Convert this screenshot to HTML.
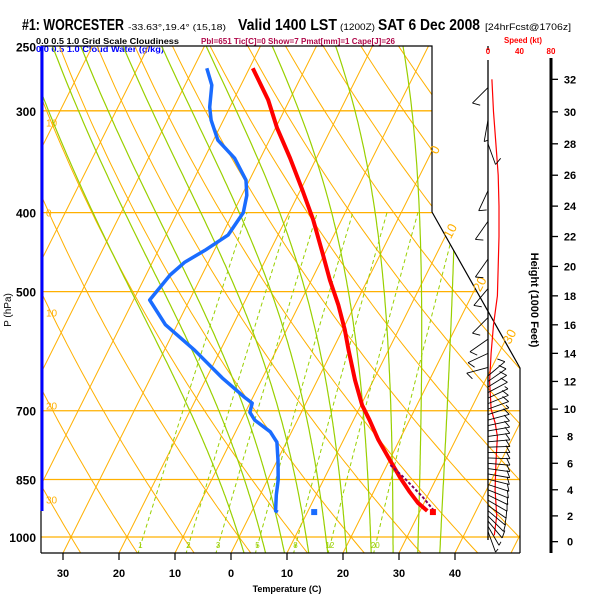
<!DOCTYPE html>
<html><head><meta charset="utf-8"><style>
html,body{margin:0;padding:0;background:#fff;}
svg{display:block;font-family:"Liberation Sans",sans-serif;}
</style></head><body>
<svg id="chart" width="600" height="600" viewBox="0 0 600 600">
<defs><clipPath id="plotclip"><polygon points="41,46 432,46 432,212 520,368 520,553 41,553"/></clipPath></defs>
<g>
<text x="22" y="30" font-size="16" font-weight="bold" textLength="102" lengthAdjust="spacingAndGlyphs">#1: WORCESTER</text>
<text x="128" y="30" font-size="8" textLength="98" lengthAdjust="spacingAndGlyphs">-33.63°,19.4° (15,18)</text>
<text x="238" y="30" font-size="16" font-weight="bold" textLength="99" lengthAdjust="spacingAndGlyphs">Valid 1400 LST</text>
<text x="340" y="30" font-size="9" textLength="35" lengthAdjust="spacingAndGlyphs">(1200Z)</text>
<text x="378" y="30" font-size="16" font-weight="bold" textLength="102" lengthAdjust="spacingAndGlyphs">SAT 6 Dec 2008</text>
<text x="485" y="30" font-size="9" textLength="86" lengthAdjust="spacingAndGlyphs">[24hrFcst@1706z]</text>
<text x="36" y="44" font-size="8" font-weight="bold" textLength="143" lengthAdjust="spacingAndGlyphs">0.0   0.5   1.0  Grid Scale Cloudiness</text>
<text x="36" y="52" font-size="8" font-weight="bold" fill="#0000ff" textLength="128" lengthAdjust="spacingAndGlyphs">0.0   0.5   1.0  Cloud Water (g/kg)</text>
<text x="201" y="44" font-size="8" font-weight="bold" fill="#b0084a" textLength="194" lengthAdjust="spacingAndGlyphs">Pbl=651 Tic[C]=0 Show=7 Pmat[mm]=1 Cape[J]=26</text>
<text x="504" y="43" font-size="8" font-weight="bold" fill="#ff0000" textLength="38" lengthAdjust="spacingAndGlyphs">Speed (kt)</text>
</g>
<g id="grid" clip-path="url(#plotclip)"></g>
<g id="frame"></g>
<g id="series" clip-path="url(#plotclip)"></g>
<g id="wind"></g>
<g id="axes"></g>
</svg>
<script>
// ---- data ----
var pLevels = [250,300,400,500,700,850,1000];
var tempTicks = [-30,-20,-10,0,10,20,30,40];
var tempTickLabels = ["30","20","10","0","10","20","30","40"];
var isoLabelTemps = [0,10,20,30];
var mixRatios = [1,2,3,5,8,12,20];
var moistStartT = [0,4,7.5,12,15.5,19,23.5,27.5,32,36];
var tempP = [266,291,315,343,375,408,445,484,519,557,590,642,689,719,760,805,846,881,908,929];
var tempT = [-39.4,-33.8,-29.7,-24.7,-19.7,-15.1,-10.8,-6.7,-3.0,0.4,2.9,6.7,10.2,12.9,16.2,20.1,23.5,26.5,28.9,31.3];
var dewP = [266,279,297,308,326,343,365,381,400,426,445,460,477,512,549,590,638,675,685,703,719,743,765,805,851,888,929,932];
var dewT = [-47.6,-45.2,-43.6,-42.2,-39.2,-34.6,-30.6,-29.1,-28.2,-28.9,-31.7,-34.2,-35.7,-37.1,-32.1,-24.6,-17.2,-11.3,-9.6,-9.2,-7.6,-3.8,-1.7,0.1,1.9,2.9,4.2,4.7];
var parcelP = [816,846,870,895,920,932];
var parcelT = [20.6,24.2,26.8,29.4,31.7,32.8];
var sfcTemp = 32.4, sfcDew = 11.2, sfcP = 932;
var heightTicks = [0,2,4,6,8,10,12,14,16,18,20,22,24,26,28,30,32];
var speedTicks = [0,40,80];
var spdH = [0.5,2,4,6,8,9,10,11,12,14,16,18,20,22,24,26,28,30,32];
var spdV = [8,11,9,10,12,9,4,3,2,4,7,12,13,14,14,13,10,7,5];
var barbH = [31.5,29.5,28,25,23,20.5,18.5,16.5,15,14,13,12.4,12,11.6,11.2,10.8,10.4,10,9.6,9.2,8.8,8.4,8,7.6,7.2,6.8,6.4,6,5.6,5.2,4.8,4.4,4,3.6,3.2,2.8,2.4,2,1.6,1.2,0.8];
var barbD = [225,190,160,205,215,215,220,225,235,245,255,50,55,58,62,65,68,70,72,75,78,80,82,85,88,90,92,95,98,100,104,108,112,116,120,125,130,135,140,150,160];
var barbS = [10,5,10,10,10,10,10,10,10,10,10,10,10,10,10,5,10,10,5,10,10,10,10,10,10,10,10,10,10,10,10,10,10,10,10,10,10,10,10,5,5];

// ---- scales ----
function py(p){ return 537 + 354*Math.log(p/1000); }
function tx(T,y){ return 231 + 5.6*T + 0.5*(553-y); }
function hy(h){ var m=h*304.8; return py(1013.25*Math.pow(1-0.0065*m/288.15,5.2559)); }
function sx(s){ return 488 + s*63/80; }
function borderX(y){ return y<212 ? 432 : (y<368 ? 432+(y-212)*88/156 : 520); }

var NS="http://www.w3.org/2000/svg";
function mk(tag, attrs, parent){ var e=document.createElementNS(NS,tag); for(var k in attrs) e.setAttribute(k,attrs[k]); parent.appendChild(e); return e; }
var grid=document.getElementById('grid'), frame=document.getElementById('frame'), series=document.getElementById('series'), wind=document.getElementById('wind'), axes=document.getElementById('axes');
var ORANGE="#ffb000", GREEN="#99d000";

pLevels.forEach(function(p){ if(p===250) return;
  var l=mk('line',{x1:41,x2:520,y1:py(p),y2:py(p),stroke:ORANGE,'stroke-width':1.3},grid);
  
  
});
for(var T=-110;T<=50;T+=10){
  var l=mk('line',{x1:tx(T,560),y1:560,x2:tx(T,40),y2:40,stroke:ORANGE,'stroke-width':1},grid);
  
  
}
function ptsStr(a){ return a.map(function(q){return q[0].toFixed(1)+','+q[1].toFixed(1);}).join(' '); }
for(var th=-50;th<=130;th+=10){
  var pts=[];
  for(var p=1060;p>=240;p-=10){ var T=(th+273.15)*Math.pow(p/1000,0.2857)-273.15; var y=py(p); pts.push([tx(T,y),y]); }
  var pl=mk('polyline',{points:ptsStr(pts),fill:'none',stroke:ORANGE,'stroke-width':1},grid);
  
  
  for(var i=0;i<pts.length-1;i++){
    if((pts[i][0]-48)*(pts[i+1][0]-48)<=0 && pts[i][1]>60 && pts[i][1]<540){
      var t=mk('text',{x:46,y:pts[i][1]+4,'font-size':10,fill:ORANGE},grid);
      t.textContent=String(Math.abs(th));
      
      
      break;
    }
  }
}
mixRatios.forEach(function(w){
  var pts=[];
  for(var p=1050;p>=400;p-=10){ var e=w*p/(622+w); var L=Math.log(e/6.112); var Td=243.5*L/(17.67-L); var y=py(p); pts.push([tx(Td,y),y]); }
  var pl=mk('polyline',{points:ptsStr(pts),fill:'none',stroke:GREEN,'stroke-width':1,'stroke-dasharray':'4,3'},grid);
  
  
  var e=w*1020/(622+w), L=Math.log(e/6.112), Td=243.5*L/(17.67-L);
  var t=mk('text',{x:tx(Td,545),y:548,'font-size':8,fill:GREEN,'text-anchor':'middle'},grid);
  t.textContent=String(w);
  
  
});
function moistSeg(T0K, pStart, pEnd, dp){
  var T=T0K, out=[];
  for(var p=pStart; dp<0 ? p>=pEnd : p<=pEnd; p+=dp){
    var y=py(p); out.push([tx(T-273.15,y),y]);
    var es=6.112*Math.exp(17.67*(T-273.15)/(T-29.65)); var rs=0.622*es/(p-es);
    var dTdp=(287*T+2.5e6*rs)/(p*(1004+2.5e6*2.5e6*rs*0.622/(287*T*T)));
    T+=dTdp*dp;
  }
  return out;
}
moistStartT.forEach(function(t0){
  var up=moistSeg(t0+273.15,1000,240,-5), dn=moistSeg(t0+273.15,1000,1060,5);
  var pts=dn.reverse().concat(up);
  var pl=mk('polyline',{points:ptsStr(pts),fill:'none',stroke:GREEN,'stroke-width':1.2},grid);
  
  
});

var fr=mk('polyline',{points:'41,553 41,46 432,46 432,212 520,368 520,553',fill:'none',stroke:'#000','stroke-width':1.2},frame);


var cb=mk('line',{x1:42,y1:46,x2:42,y2:511,stroke:'#0000ff','stroke-width':3},frame);


isoLabelTemps.forEach(function(T){
  var yy=null;
  for(var y=553;y>=46;y-=0.5){ if(tx(T,y)>=borderX(y)){ yy=y; break; } }
  if(yy===null) return;
  var x=tx(T,yy)+5, ty=yy+4;
  var t=mk('text',{x:x,y:ty,'font-size':13,fill:ORANGE,transform:'rotate(-62 '+x+' '+ty+')'},frame);
  t.textContent=String(T);
  
  
});

function line(P,Tarr,color,w,name,dash){
  var pts=P.map(function(p,i){var y=py(p);return [tx(Tarr[i],y),y];});
  var a={points:ptsStr(pts),fill:'none',stroke:color,'stroke-width':w,'stroke-linejoin':'round'};
  if(dash) a['stroke-dasharray']=dash;
  var pl=mk('polyline',a,series);
  
  
}
line(tempP,tempT,'#ff0000',4,'temperature-profile');
line(dewP,dewT,'#1a6cff',3.5,'dewpoint-profile');
line(parcelP,parcelT,'#800060',2,'parcel-trace','3,2');
var yS=py(sfcP);
var d1=mk('rect',{x:tx(sfcTemp,yS)-3,y:yS-3,width:6,height:6,fill:'#ff0000'},series);


var d2=mk('rect',{x:tx(sfcDew,yS)-3,y:yS-3,width:6,height:6,fill:'#1a6cff'},series);



var wa=mk('line',{x1:488,y1:60,x2:488,y2:540,stroke:'#000','stroke-width':1.3},wind);


var wt=mk('line',{x1:488,y1:46,x2:488,y2:50,stroke:'#000','stroke-width':1.3},wind);


var spts=spdH.map(function(h,i){return [sx(spdV[i]),hy(h)];});
var sl=mk('polyline',{points:ptsStr(spts),fill:'none',stroke:'#ff0000','stroke-width':1.2},wind);


barbH.forEach(function(h,i){
  var y0=hy(h), d=barbD[i]*Math.PI/180, L=22;
  var ex=488+Math.sin(d)*L, ey=y0-Math.cos(d)*L;
  var g=mk('g',{},wind);
  
  
  mk('line',{x1:488,y1:y0,x2:ex,y2:ey,stroke:'#000','stroke-width':0.9},g);
  var bl = barbS[i]>=10 ? 8 : 4;
  var a=d-Math.PI*2/3;
  mk('line',{x1:ex,y1:ey,x2:ex+Math.sin(a)*bl,y2:ey-Math.cos(a)*bl,stroke:'#000','stroke-width':0.9},g);
});
speedTicks.forEach(function(s){
  var t=mk('text',{x:sx(s),y:54,'font-size':8,'font-weight':'bold',fill:'#ff0000','text-anchor':'middle'},wind);
  t.textContent=String(s);
  
  
});
var ha=mk('line',{x1:551,y1:58,x2:551,y2:553,stroke:'#000','stroke-width':3},axes);


heightTicks.forEach(function(h){
  var y=hy(h);
  var tk=mk('line',{x1:551,x2:558,y1:y,y2:y,stroke:'#000','stroke-width':1.3},axes);
  
  
  var t=mk('text',{x:570,y:y+4,'font-size':11,'font-weight':'bold','text-anchor':'middle'},axes);
  t.textContent=String(h);
  
  
});
var ht=mk('text',{x:531,y:300,'font-size':11,'font-weight':'bold','text-anchor':'middle',transform:'rotate(90 531 300)'},axes);
ht.textContent='Height (1000 Feet)';



pLevels.forEach(function(p){
  var t=mk('text',{x:36,y:py(p)+5,'font-size':12,'font-weight':'bold','text-anchor':'end'},axes);
  t.textContent=String(p);
  
  
});
var pt=mk('text',{x:11,y:310,'font-size':10,'text-anchor':'middle',transform:'rotate(-90 11 310)'},axes);
pt.textContent='P (hPa)';


var xa=mk('line',{x1:41,x2:520,y1:553,y2:553,stroke:'#000','stroke-width':1.3},axes);


tempTicks.forEach(function(T,i){
  var x=tx(T,553);
  var tk=mk('line',{x1:x,x2:x,y1:553,y2:560,stroke:'#000','stroke-width':1.2},axes);
  
  
  var t=mk('text',{x:x,y:577,'font-size':11,'font-weight':'bold','text-anchor':'middle'},axes);
  t.textContent=tempTickLabels[i];
  
  
});
var xt=mk('text',{x:287,y:592,'font-size':9,'font-weight':'bold','text-anchor':'middle'},axes);
xt.textContent='Temperature (C)';


</script>
</body></html>
